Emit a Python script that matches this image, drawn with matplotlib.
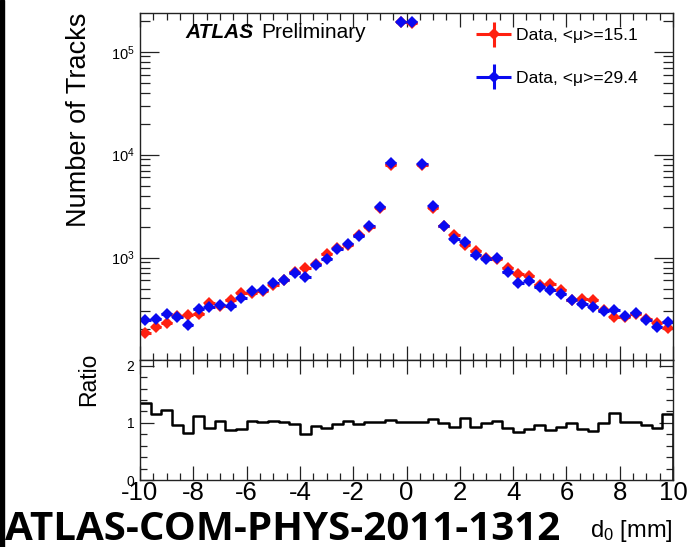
import numpy as np
import matplotlib
matplotlib.use("Agg")
import matplotlib.pyplot as plt
from matplotlib.container import ErrorbarContainer
from matplotlib.legend_handler import HandlerErrorbar
from matplotlib.patches import Rectangle
from matplotlib.ticker import LogLocator, LogFormatterMathtext, MultipleLocator, NullFormatter

plt.rcParams["font.family"] = ["Liberation Sans", "DejaVu Sans"]
plt.rcParams["mathtext.fontset"] = "custom"
plt.rcParams["mathtext.rm"] = "Liberation Sans"
plt.rcParams["mathtext.it"] = "Liberation Sans:italic"
plt.rcParams["axes.unicode_minus"] = False

# %% data (50 bins of 0.4 mm from -10 to 10 mm)
d0_edges = np.linspace(-10, 10, 51)

tracks_mu15 = [
    183, 212, 229, 273, 275, 281, 365, 340, 385, 450,
    450, 472, 545, 600, 722, 800, 875, 1075, 1228, 1315,
    1640, 1990, 3040, 7900, 196000, 192000, 8000, 3000, 2014, 1645,
    1310, 1170, 985, 960, 800, 690, 655, 535, 550, 480,
    388, 392, 385, 306, 263, 264, 281, 253, 233, 206,
]
tracks_mu29 = [
    245, 250, 282, 265, 220, 313, 327, 345, 337, 400,
    468, 482, 566, 611, 708, 649, 855, 978, 1204, 1367,
    1611, 2027, 3098, 8280, 196000, 194000, 8140, 3200, 2014, 1528,
    1416, 1070, 977, 991, 724, 566, 593, 518, 482, 447,
    385, 352, 327, 303, 308, 269, 286, 246, 212, 237,
]
ratio = [
    1.35, 1.15, 1.22, 0.97, 0.82, 1.12, 0.91, 1.04, 0.88, 0.90,
    1.04, 1.02, 1.04, 1.02, 0.98, 0.81, 0.95, 0.91, 0.98, 1.04,
    0.98, 1.02, 1.02, 1.05, 1.02, 1.02, 1.01, 1.06, 1.00, 0.93,
    1.08, 0.93, 0.99, 1.03, 0.91, 0.84, 0.90, 0.97, 0.88, 0.93,
    0.99, 0.90, 0.85, 0.99, 1.17, 1.02, 1.02, 0.97, 0.91, 1.15,
]
labels = ["Data, <\u03bc>=15.1", "Data, <\u03bc>=29.4"]

centers = 0.5 * (d0_edges[:-1] + d0_edges[1:])
half_width = 0.5 * np.diff(d0_edges)

# %% layout in pixels
W, H = 689, 547


def px_box(left, top, right, bottom):
    return [left / W, 1 - bottom / H, (right - left) / W, (bottom - top) / H]


fig = plt.figure(figsize=(W / 100, H / 100), dpi=100)
ax = fig.add_axes(px_box(140, 13, 673, 360))
rax = fig.add_axes(px_box(140, 360, 673, 480), sharex=ax)
fig.patches.append(Rectangle((0, 0), 3.5 / W, 1, transform=fig.transFigure,
                             color="black", zorder=10))

frame = "#222222"
for a in (ax, rax):
    for s in a.spines.values():
        s.set_color(frame)
        s.set_linewidth(1.0)
    a.tick_params(which="both", direction="in", top=True, right=True,
                  color=frame, width=0.9)
    a.tick_params(which="major", length=10)
    a.tick_params(which="minor", length=5)

# %% upper panel
handles = []
for counts, color in zip([tracks_mu15, tracks_mu29], ["#ff2010", "#0a0af0"]):
    h = ax.errorbar(centers, counts, xerr=half_width, yerr=np.zeros(len(counts)),
                    fmt="D", ms=6, color=color, ecolor=color, elinewidth=2.2,
                    capsize=0, mew=0)
    handles.append(h)

ax.set_yscale("log")
ax.set_xlim(-10, 10)
ax.set_ylim(101, 2.38e5)
ax.yaxis.set_major_locator(LogLocator(base=10))
ax.yaxis.set_minor_locator(LogLocator(base=10, subs=np.arange(2, 10)))
ax.yaxis.set_major_formatter(LogFormatterMathtext())
ax.yaxis.set_minor_formatter(NullFormatter())
ax.tick_params(axis="y", which="major", length=14, labelsize=10.5, pad=4)
ax.tick_params(axis="y", which="minor", length=7)
ax.xaxis.set_major_locator(MultipleLocator(2))
ax.xaxis.set_minor_locator(MultipleLocator(0.5))
ax.tick_params(axis="x", labelbottom=False)

ax.text(0.085, 0.945, "ATLAS", transform=ax.transAxes, fontsize=15,
        fontweight="bold", fontstyle="italic", va="center")
ax.text(0.228, 0.945, "Preliminary", transform=ax.transAxes, fontsize=15,
        va="center")

ax.legend(handles, labels, loc="upper left",
          bbox_to_anchor=(476 / W, 1 - 28 / H), bbox_transform=fig.transFigure,
          frameon=False, fontsize=12.6, handlelength=2.0, handletextpad=0.3,
          labelspacing=1.55, borderpad=0, borderaxespad=0,
          handler_map={ErrorbarContainer: HandlerErrorbar(xerr_size=1.0,
                                                          yerr_size=0.72)})

# %% ratio panel
rax.step(np.append(d0_edges[:-1], d0_edges[-1]), np.append(ratio, ratio[-1]),
         where="post", color="black", lw=1.8)
rax.vlines(d0_edges[-1], 0, ratio[-1], color="black", lw=1.8)
rax.set_ylim(0, 2.1)
rax.yaxis.set_major_locator(MultipleLocator(1))
rax.yaxis.set_minor_locator(MultipleLocator(0.2))
rax.tick_params(axis="y", labelsize=10, pad=4)
rax.tick_params(axis="x", labelsize=18.5, pad=1)

fig.text(79 / W, 1 - 13 / H, "Number of Tracks", rotation=90, fontsize=19.5,
         ha="center", va="top")
fig.text(89 / W, 1 - 353 / H, "Ratio", rotation=90, fontsize=16.5,
         ha="center", va="top")
fig.text(673 / W, 1 - 537 / H, r"d$_{0}$ [mm]", fontsize=17, ha="right",
         va="baseline")
fig.text(5 / W, 1 - 540 / H, "ATLAS-COM-PHYS-2011-1312", fontsize=29,
         family="Open Sans", fontweight="bold", ha="left", va="baseline")

fig.savefig("out.png", dpi=100)
